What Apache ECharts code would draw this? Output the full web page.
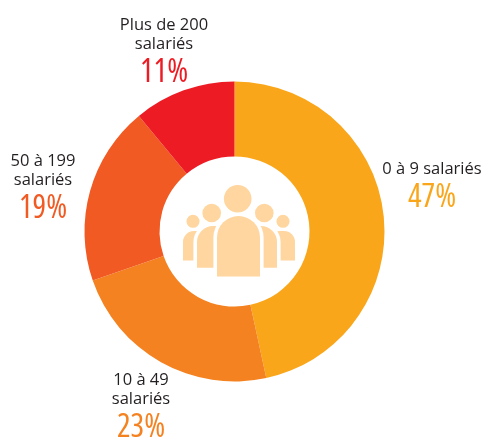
<!DOCTYPE html>
<html>
<head>
<meta charset="utf-8">
<style>
html, body { margin: 0; padding: 0; background: #fff; }
#chart { width: 482px; height: 437px; }
</style>
<script src="https://cdn.jsdelivr.net/npm/echarts@6/dist/echarts.min.js"></script>
</head>
<body>
<div id="chart"></div>
<script>
var categories = ['0 à 9 salariés', '10 à 49\nsalariés', '50 à 199\nsalariés', 'Plus de 200\nsalariés'];
var shares = [46.6, 23.1, 19.3, 11];
var shareLabels = ['47%', '23%', '19%', '11%'];
var colors = ['#FAA61A', '#F58220', '#F15A22', '#ED1C24'];
var richNames = ['a', 'b', 'c', 'd'];

// label centres, same order as categories
var labelSpots = [[432, 186], [141, 407], [43, 188], [164, 52]];

var iconColor = '#FFD69F';

function body(x, y, w, h, r, z) {
    // white halo first, gives the gap between the figures
    return [
        { type: 'rect', z: z, shape: { x: x - 3.6, y: y - 3.6, width: w + 7.2, height: h + 7.2, r: [r + 3.6, r + 3.6, 0, 0] }, style: { fill: '#fff' } },
        { type: 'rect', z: z + 1, shape: { x: x, y: y, width: w, height: h, r: [r, r, 0, 0] }, style: { fill: iconColor } }
    ];
}

function head(cx, cy, r) {
    return { type: 'circle', z: 20, shape: { cx: cx, cy: cy, r: r }, style: { fill: iconColor } };
}

var icon = [].concat(
    body(183, 231, 26, 29.5, 11, 10),
    body(269, 231, 26, 29.5, 11, 10),
    body(197, 226, 50, 41.7, 16, 12),
    body(228, 226, 49, 41.7, 16, 12),
    body(217, 216, 43, 60.5, 21.5, 14),
    [head(237.7, 198.7, 13.8), head(211.7, 213, 9.3), head(264.3, 213, 9.3), head(193, 221.3, 6.5), head(283, 221.3, 6.5)]
);

var rich = {
    name: { fontFamily: '"Open Sans"', fontSize: 16.5, lineHeight: 19, color: '#231F20', align: 'center' }
};
richNames.forEach(function (k, i) {
    // the condensed keyword goes through to the canvas font string
    rich[k] = { fontStyle: 'condensed', fontWeight: 500, fontFamily: '"Open Sans"', fontSize: 32, lineHeight: 34, color: colors[i], align: 'center', padding: [4, 0, 0, 0] };
});

var pieData = categories.map(function (c, i) {
    return { name: c, value: shares[i], itemStyle: { color: colors[i] } };
});

var myChart = echarts.init(document.getElementById('chart'), null, { renderer: 'canvas' });

var option = {
    animation: false,
    backgroundColor: '#fff',
    series: [
        {
            type: 'pie',
            center: [234.5, 231.5],
            radius: [75, 150],
            startAngle: 90,
            clockwise: true,
            silent: true,
            data: pieData,
            label: {
                show: true,
                position: 'inside',
                formatter: function (p) {
                    var lines = p.name.split('\n').map(function (t) { return '{name|' + t + '}'; });
                    return lines.join('\n') + '\n{' + richNames[p.dataIndex] + '|' + shareLabels[p.dataIndex] + '}';
                },
                rich: rich
            },
            labelLine: { show: false },
            labelLayout: function (p) {
                return { x: labelSpots[p.dataIndex][0], y: labelSpots[p.dataIndex][1], align: 'center', verticalAlign: 'middle' };
            }
        }
    ],
    graphic: { elements: icon }
};

myChart.setOption(option);
</script>
</body>
</html>
